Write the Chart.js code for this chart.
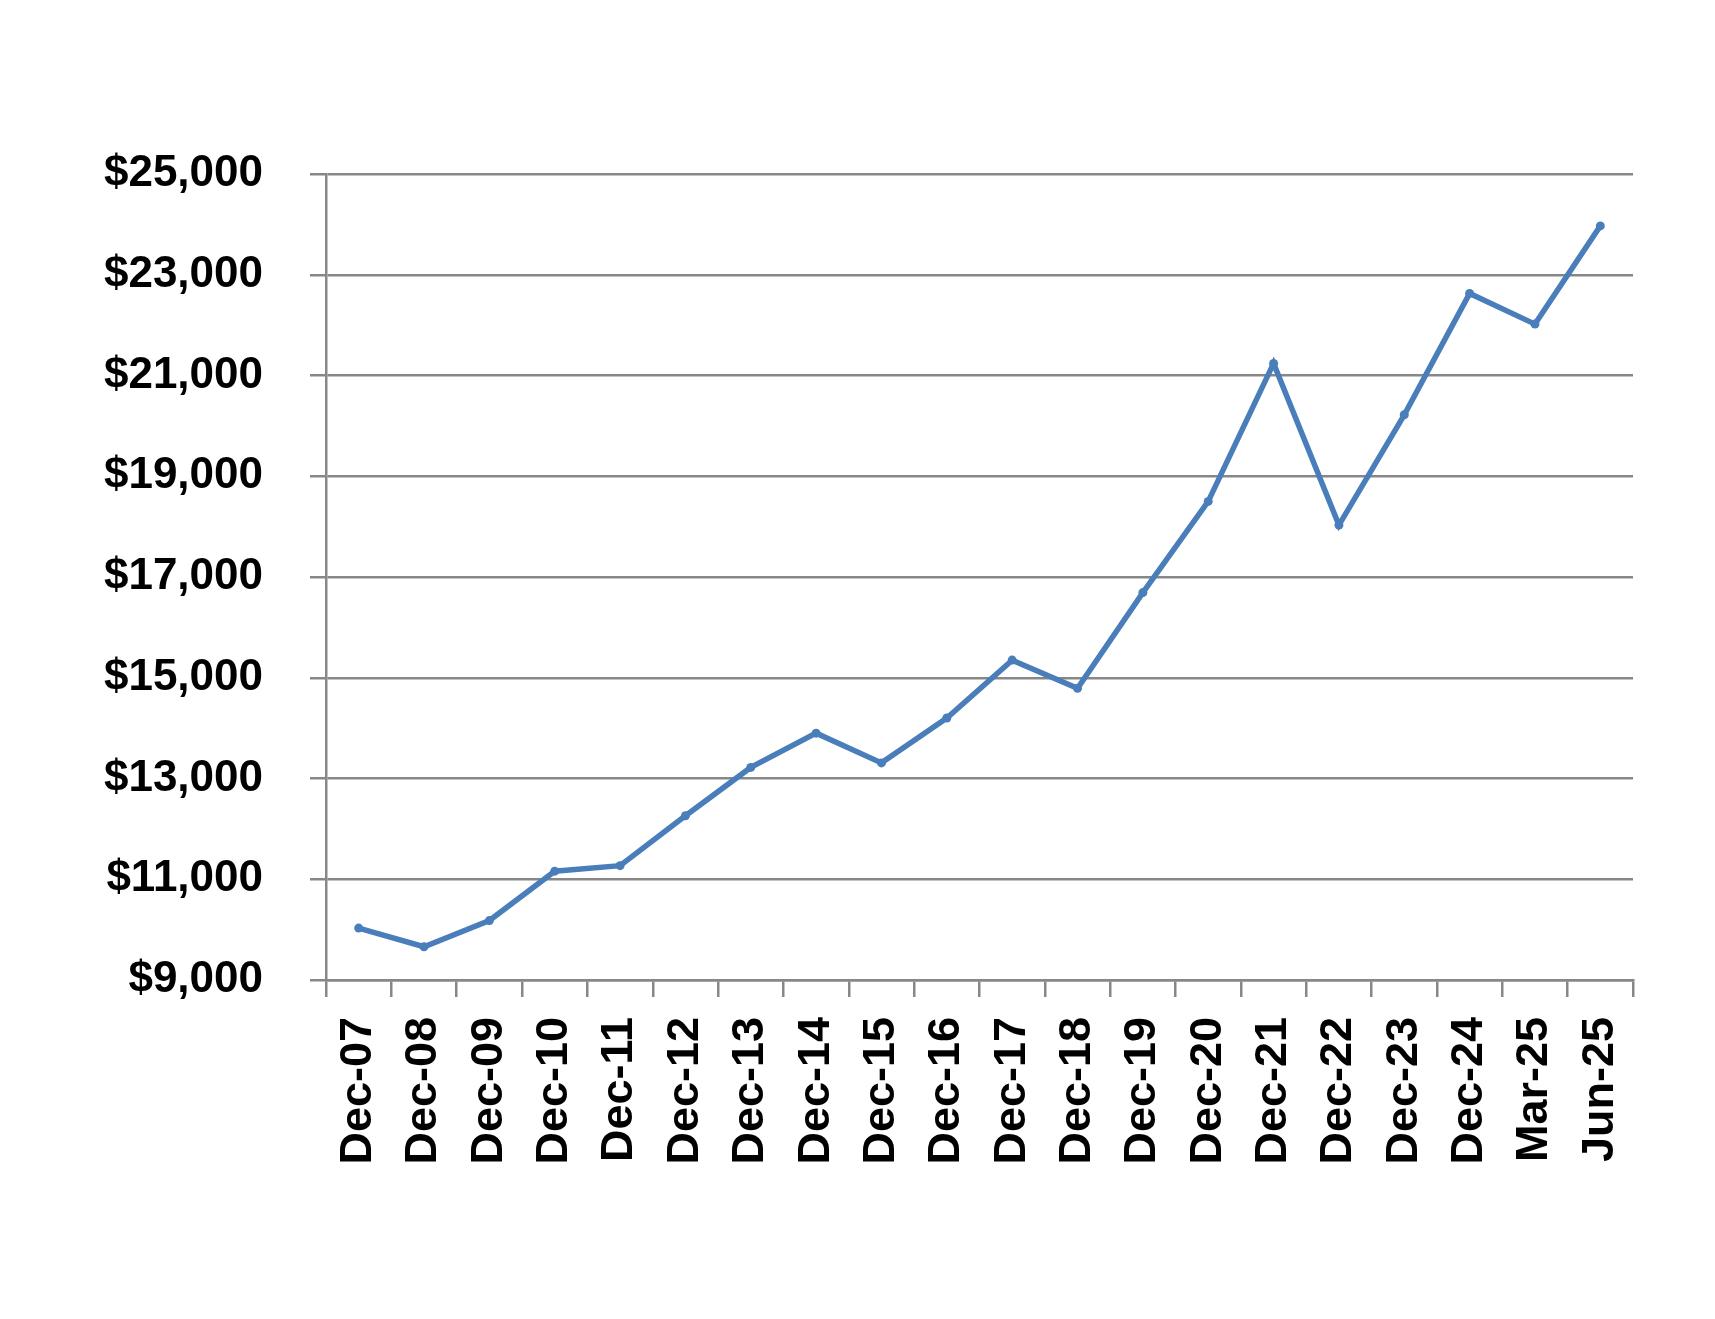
<!DOCTYPE html>
<html>
<head>
<meta charset="utf-8">
<script src="https://cdn.jsdelivr.net/npm/chart.js@4.4.1/dist/chart.umd.min.js"></script>
<style>
  html, body { margin: 0; padding: 0; background: #fff; }
  #wrap { width: 1715px; height: 1319px; }
</style>
</head>
<body>
<div id="wrap"><canvas id="lineChart" width="1715" height="1319"></canvas></div>
<script>
// valores
const periods = ['Dec-07', 'Dec-08', 'Dec-09', 'Dec-10', 'Dec-11', 'Dec-12', 'Dec-13', 'Dec-14', 'Dec-15', 'Dec-16',
    'Dec-17', 'Dec-18', 'Dec-19', 'Dec-20', 'Dec-21', 'Dec-22', 'Dec-23', 'Dec-24', 'Mar-25', 'Jun-25'];
const values = [10030, 9660, 10180, 11160, 11270, 12260, 13220, 13900, 13310, 14200,
    15350, 14790, 16690, 18500, 21240, 18030, 20220, 22630, 22020, 23970];
const yMin = 9000;
const yMax = 25000;
const yStep = 2000;

const fontFamily = '"Liberation Sans Narrow", "Arial Narrow", "Liberation Sans", Arial, sans-serif';
const gridColor = '#878787';
const lineColor = '#4a7ebb';

function drawLineChart() {
    const ctx = document.getElementById('lineChart').getContext('2d');
    new Chart(ctx, {
        type: 'line',
        data: {
            labels: periods,
            datasets: [
                {
                    label: 'Value',
                    data: values,
                    borderColor: lineColor,
                    backgroundColor: lineColor,
                    borderWidth: 5.5,
                    pointRadius: 4.5,
                    pointBorderWidth: 0,
                    fill: false,
                    tension: 0,
                }
            ]
        },
        options: {
            responsive: false,
            animation: false,
            layout: {
                padding: { left: 0, right: 82, top: 174, bottom: 0 }
            },
            plugins: {
                legend: { display: false },
                tooltip: { enabled: false }
            },
            scales: {
                x: {
                    offset: true,
                    grid: {
                        offset: true,
                        drawOnChartArea: false,
                        drawTicks: true,
                        tickLength: 17,
                        color: gridColor,
                        lineWidth: 2.5
                    },
                    border: { color: gridColor, width: 2.5 },
                    ticks: {
                        color: '#000',
                        font: { family: fontFamily, size: 45, weight: 'bold' },
                        maxRotation: 90,
                        minRotation: 90,
                        autoSkip: false,
                        padding: 20
                    },
                    afterFit: (scale) => { scale.height = 1319 - 980; }
                },
                y: {
                    min: yMin,
                    max: yMax,
                    grid: {
                        color: gridColor,
                        lineWidth: 2.5,
                        tickLength: 16
                    },
                    border: { color: gridColor, width: 2.5 },
                    ticks: {
                        stepSize: yStep,
                        color: '#000',
                        font: { family: fontFamily, size: 44, weight: 'bold' },
                        padding: 47,
                        callback: (v) => '$' + v.toLocaleString('en-US')
                    },
                    afterFit: (scale) => { scale.width = 326; }
                }
            }
        }
    });
}

document.addEventListener('DOMContentLoaded', () => {
    drawLineChart();
});
</script>
</body>
</html>
